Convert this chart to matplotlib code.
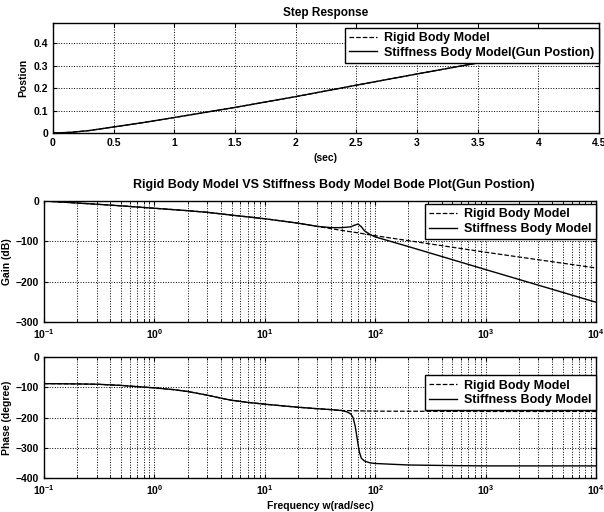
import math
import matplotlib
matplotlib.use("Agg")
import matplotlib.pyplot as plt
from matplotlib.ticker import LogLocator, FuncFormatter, NullFormatter

plt.rcParams['font.family'] = ['Liberation Sans', 'DejaVu Sans']
plt.rcParams['font.weight'] = 'bold'
plt.rcParams['mathtext.fontset'] = 'custom'
plt.rcParams['mathtext.rm'] = 'Liberation Sans:bold'
plt.rcParams['mathtext.default'] = 'rm'

# step response (both models nearly identical)
t = [0, 0.15, 0.3, 0.5, 0.75, 1.0, 1.5, 2.0, 2.5, 3.0, 3.5, 4.0, 4.5]
step_rigid = [0, 0.003, 0.011, 0.027, 0.047, 0.069, 0.114, 0.162, 0.213, 0.263, 0.312, 0.360, 0.408]
step_stiff = [0, 0.003, 0.011, 0.027, 0.047, 0.069, 0.114, 0.162, 0.213, 0.263, 0.312, 0.360, 0.408]

# bode gain
w_gain_rigid = [0.1, 0.2, 0.3, 0.5, 1, 2, 3, 5, 10, 20, 30, 50, 70, 100, 1000, 10000]
gain_rigid = [0, -5, -8, -12, -18, -24, -28, -35, -44, -55, -63, -73, -79, -86, -127, -166]
w_gain_stiff = [0.1, 0.2, 0.3, 0.5, 1, 2, 3, 5, 10, 20, 30, 40, 50, 60, 65, 70, 75, 80, 90, 100,
                200, 1000, 10000]
gain_stiff = [0, -5, -8, -12, -18, -24, -28, -35, -44, -55, -63, -66, -66, -64, -60, -57, -64,
              -74, -83, -89, -113, -170, -251]

# bode phase
w_ph_rigid = [0.1, 0.2, 0.3, 0.5, 0.7, 1, 1.5, 2, 3, 4, 5, 7, 10, 15, 20, 30, 40, 50, 100, 1000, 10000]
ph_rigid = [-88, -89, -90, -94, -98, -102, -108, -114, -126, -136, -143, -150, -156, -162, -166,
            -171, -174, -177, -179, -180, -180]
w_ph_stiff = [0.1, 0.2, 0.3, 0.5, 0.7, 1, 1.5, 2, 3, 4, 5, 7, 10, 15, 20, 30, 40, 50, 55, 60, 63,
              66, 68, 70, 72, 75, 80, 90, 100, 150, 200, 500, 1000, 10000]
ph_stiff = [-88, -89, -90, -94, -98, -102, -108, -114, -126, -136, -143, -150, -156, -162, -166,
            -171, -174, -177, -181, -188, -200, -230, -260, -290, -315, -335, -344, -350, -352,
            -355, -357, -359, -360, -360]

fig = plt.figure(figsize=(6.04, 5.12), dpi=100)
W, H = 604, 512

def box(l, t_, r, b):
    return [l / W, 1 - b / H, (r - l) / W, (b - t_) / H]

ax1 = fig.add_axes(box(53, 23, 599, 133))
ax2 = fig.add_axes(box(44, 201, 596, 322))
ax3 = fig.add_axes(box(44, 357, 596, 478))

fs = 7.5
leg_kw = dict(fontsize=9, fancybox=False, framealpha=1, edgecolor='black', borderaxespad=0,
              handlelength=2.2, borderpad=0.35, labelspacing=0.2, handletextpad=0.6)

# step
ax1.plot(t, step_rigid, 'k--', lw=0.9, label='Rigid Body Model')
ax1.plot(t, step_stiff, 'k-', lw=1.0, label='Stiffness Body Model(Gun Postion)')
ax1.set_xlim(0, 4.5)
ax1.set_ylim(0, 0.49)
ax1.set_xticks([0, 0.5, 1, 1.5, 2, 2.5, 3, 3.5, 4, 4.5])
ax1.set_xticklabels(['0', '0.5', '1', '1.5', '2', '2.5', '3', '3.5', '4', '4.5'])
ax1.set_yticks([0, 0.1, 0.2, 0.3, 0.4])
ax1.set_yticklabels(['0', '0.1', '0.2', '0.3', '0.4'])
ax1.set_title('Step Response', fontsize=8.5, fontweight='bold', pad=5)
ax1.set_xlabel('(sec)', fontsize=fs, fontweight='bold', labelpad=4)
ax1.set_ylabel('Postion', fontsize=fs, fontweight='bold')
ax1.yaxis.set_label_coords(-0.046, 0.5)
ax1.legend(loc='upper right', bbox_to_anchor=(1.0, 0.955), **leg_kw)

# gain
ax2.semilogx(w_gain_rigid, gain_rigid, 'k--', lw=0.9, label='Rigid Body Model')
ax2.semilogx(w_gain_stiff, gain_stiff, 'k-', lw=1.0, label='Stiffness Body Model')
ax2.set_ylim(-300, 0)
ax2.set_yticks([-300, -200, -100, 0])
ax2.set_ylabel('Gain (dB)', fontsize=fs, fontweight='bold')
ax2.yaxis.set_label_coords(-0.058, 0.5)
fig.text(334 / W, 1 - 185 / H, 'Rigid Body Model VS Stiffness Body Model Bode Plot(Gun Postion)',
         ha='center', va='center', fontsize=9, fontweight='bold')
ax2.legend(loc='upper right', bbox_to_anchor=(1.0, 0.975), **leg_kw)

# phase
ax3.semilogx(w_ph_rigid, ph_rigid, 'k--', lw=0.9, label='Rigid Body Model')
ax3.semilogx(w_ph_stiff, ph_stiff, 'k-', lw=1.0, label='Stiffness Body Model')
ax3.set_ylim(-400, 0)
ax3.set_yticks([-400, -300, -200, -100, 0])
ax3.set_ylabel('Phase (degree)', fontsize=fs, fontweight='bold')
ax3.yaxis.set_label_coords(-0.058, 0.5)
ax3.set_xlabel('Frequency w(rad/sec)', fontsize=fs, fontweight='bold', labelpad=3)
ax3.legend(loc='upper right', bbox_to_anchor=(1.0, 0.85), **leg_kw)

logfmt = FuncFormatter(lambda v, p: r'$10^{%d}$' % round(math.log10(v)))
for ax in (ax2, ax3):
    ax.set_xlim(0.1, 1e4)
    ax.xaxis.set_major_locator(LogLocator(base=10, numticks=10))
    ax.xaxis.set_major_formatter(logfmt)
    ax.xaxis.set_minor_locator(LogLocator(base=10, subs=range(2, 10), numticks=50))
    ax.xaxis.set_minor_formatter(NullFormatter())
    ax.grid(True, which='minor', axis='x', ls=':', color='black', lw=0.7)

for ax in (ax1, ax2, ax3):
    ax.grid(True, which='major', ls=':', color='black', lw=0.7)
    ax.tick_params(direction='in', top=True, right=True, labelsize=fs, length=3)
    ax.tick_params(which='minor', direction='in', top=True, length=2)
    for lbl in ax.get_xticklabels() + ax.get_yticklabels():
        lbl.set_fontweight('bold')
    for s in ax.spines.values():
        s.set_linewidth(1.0)

fig.savefig('out.png', dpi=100)
